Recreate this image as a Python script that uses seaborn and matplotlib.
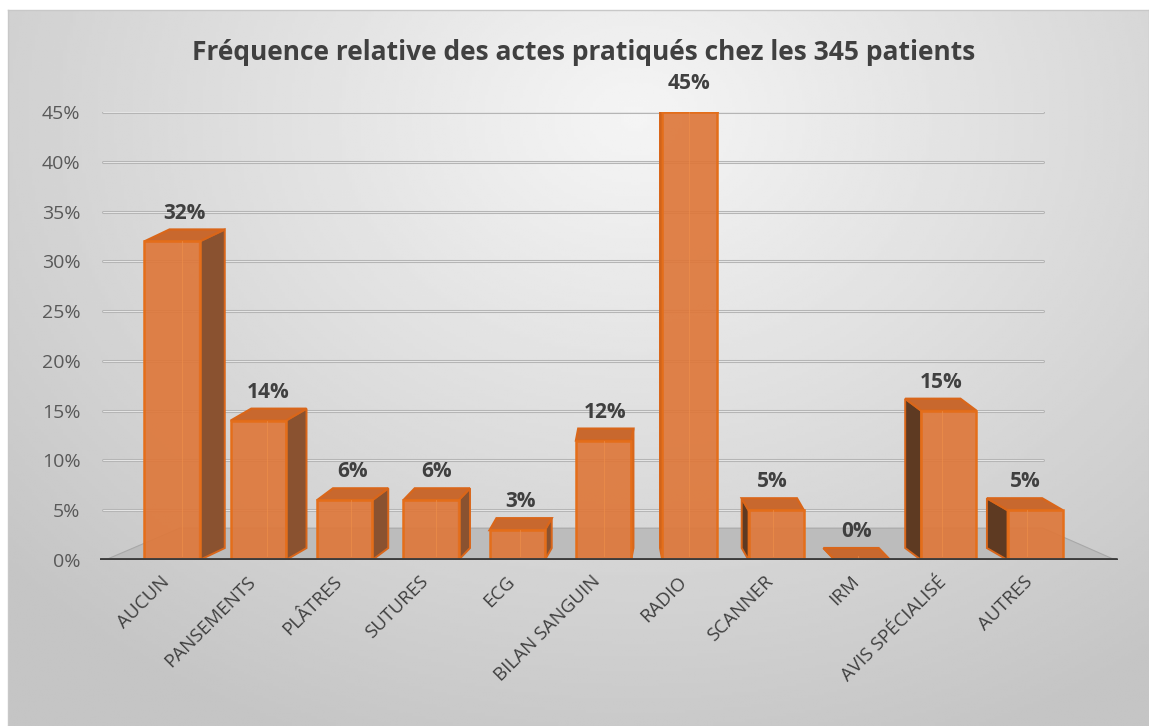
import numpy as np
import pandas as pd
import seaborn as sns
import matplotlib.pyplot as plt
import matplotlib.transforms as mtransforms
from matplotlib.patches import Polygon
from matplotlib.ticker import PercentFormatter

categories = ["AUCUN", "PANSEMENTS", "PLÂTRES", "SUTURES", "ECG", "BILAN SANGUIN",
              "RADIO", "SCANNER", "IRM", "AVIS SPÉCIALISÉ", "AUTRES"]
freq = [0.32, 0.14, 0.06, 0.06, 0.03, 0.12, 0.45, 0.05, 0.00, 0.15, 0.05]
yticks = [0.00, 0.05, 0.10, 0.15, 0.20, 0.25, 0.30, 0.35, 0.40, 0.45]
title = "Fréquence relative des actes pratiqués chez les 345 patients"

df = pd.DataFrame({"acte": categories, "freq": freq})

sns.set_theme(style="white")
plt.rcParams["font.family"] = ["Open Sans", "DejaVu Sans"]

W, H = 1149, 726
fig = plt.figure(figsize=(W / 100, H / 100), dpi=100)
fig.patch.set_facecolor("white")

# grey radial gradient background of the chart area
bg = fig.add_axes([8 / W, 0, 1 - 8 / W, 1 - 10 / H])
yy, xx = np.mgrid[0:1:240j, 0:1:360j]
r = np.sqrt(((xx - 0.55) / 0.75) ** 2 + ((yy - 0.15) / 0.95) ** 2)
grad = np.clip(0.96 - 0.19 * r, 0.77, 0.96)
bg.imshow(grad, cmap="gray", vmin=0, vmax=1, aspect="auto", extent=[0, 1, 0, 1])
bg.set_xticks([])
bg.set_yticks([])
for s in bg.spines.values():
    s.set_color("#c8c8c8")
    s.set_linewidth(1)

ax = fig.add_axes([100 / W, 166 / H, 1018 / W, 448 / H])
ax.patch.set_alpha(0)

xmin, xmax = -0.834, 10.96
depth = 0.032          # floor depth in data units
step = 0.053           # side depth per bar away from centre

# floor
floor = Polygon([(xmin + 0.06, 0), (xmax - 0.03, 0), (10.09, depth), (0.09, depth)],
                closed=True, facecolor="#bcbcbc", edgecolor="#a8a8a8", lw=0.8, zorder=0.5)
ax.add_patch(floor)

# gridlines
for v in yticks[1:]:
    ax.plot([xmin + 0.03, 10.09], [v, v], color="#b5b5b5", lw=2.2, zorder=0.4,
            solid_capstyle="round")
    ax.plot([xmin + 0.03, 10.09], [v, v], color="#e6e6e6", lw=0.7, zorder=0.45)

sns.barplot(data=df, x="acte", y="freq", ax=ax, width=0.64,
            color="#E07B39", edgecolor="#E46E1A", linewidth=1.8, saturation=1, zorder=3)

for i, p in enumerate(ax.patches[1:]):
    p.set_facecolor((0.87, 0.47, 0.23, 0.92))
    x0, w, h = p.get_x(), p.get_width(), p.get_height()
    dx = (5.5 - i) * step
    dy = 0.012
    top = Polygon([(x0, h), (x0 + w, h), (x0 + w + dx, h + dy), (x0 + dx, h + dy)],
                  closed=True, facecolor="#C8682E", edgecolor="#D9661A", lw=1.6, zorder=2.9)
    ax.add_patch(top)
    xs = x0 + w if dx > 0 else x0
    side = Polygon([(xs, 0), (xs + dx, dy), (xs + dx, h + dy), (xs, h)],
                   closed=True, facecolor="#8A5230" if dx > 0 else "#5E3A22",
                   edgecolor="#D9661A", lw=1.4, zorder=2.8)
    ax.add_patch(side)
    # faint inner edges, as seen through the translucent box
    ax.plot([x0 + dx * 0.4 + w / 2] * 2, [0.004, h], color="#F0904A", lw=0.8, alpha=0.6, zorder=3.2)
    ax.text(x0 + w / 2 + dx / 2, h + dy + 0.006, f"{freq[i]:.0%}", ha="center", va="bottom",
            fontsize=15, fontweight="bold", color="#404040", zorder=5)

ax.axhline(0, color="#3c3c3c", lw=3.5, zorder=4, xmin=0.0, xmax=0.998)

ax.set_xlim(xmin, xmax)
ax.set_ylim(0, 0.45)
ax.set_yticks(yticks)
ax.yaxis.set_major_formatter(PercentFormatter(1, decimals=0))
ax.set_xlabel("")
ax.set_ylabel("")
for s in ax.spines.values():
    s.set_visible(False)
ax.tick_params(axis="y", length=0, pad=14, labelsize=14, labelcolor="#595959")
ax.tick_params(axis="x", length=0, pad=9, labelsize=13.5, labelcolor="#404040")
shift = mtransforms.ScaledTranslation(-0.12, 0, fig.dpi_scale_trans)
for lab in ax.get_xticklabels():
    lab.set_rotation(45)
    lab.set_ha("right")
    lab.set_rotation_mode("anchor")
    lab.set_transform(lab.get_transform() + shift)

fig.text(0.508, 1 - 52 / H, title, ha="center", va="center",
         fontsize=19, fontweight="bold", color="#404040")

fig.savefig("out.png", dpi=100)
